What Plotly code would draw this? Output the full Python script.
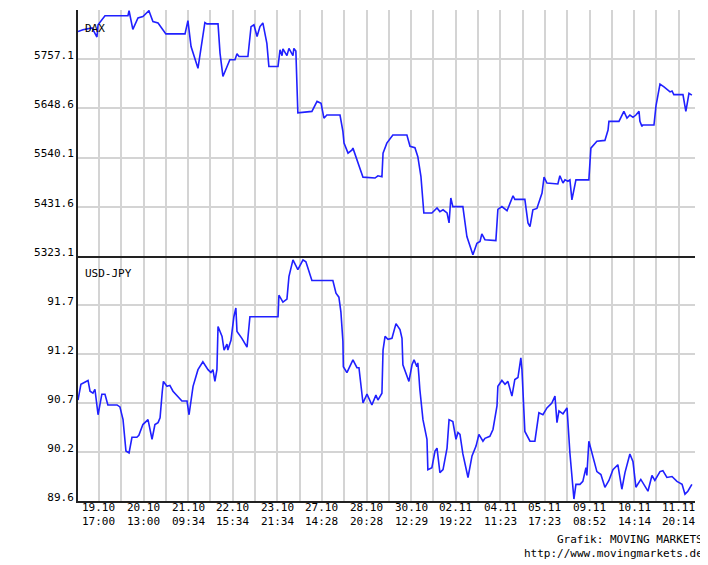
import plotly.graph_objects as go

# time position, in grid-line units (grid line 0 = 19.10 17:00)
dax_t = [-0.94, -0.72, -0.31, -0.09, -0.04, 0.27, 1.30, 1.35, 1.52, 1.75, 1.97, 2.24, 2.42, 2.65,
         3.00, 3.86, 3.99, 4.13, 4.44, 4.75, 4.84, 5.34, 5.43, 5.56, 5.87, 6.10, 6.19, 6.28, 6.68,
         6.82, 6.95, 7.09, 7.22, 7.35, 7.53, 7.62, 8.03, 8.12, 8.21, 8.25, 8.43, 8.52, 8.70, 8.74,
         8.83, 8.88, 8.92, 9.55, 9.78, 9.96, 10.09, 10.22, 10.81, 10.94, 10.99, 11.17, 11.35, 11.39,
         11.61, 11.84, 12.38, 12.51, 12.69, 12.74, 12.91, 13.18, 13.81, 13.95, 14.17, 14.30, 14.44,
         14.57, 14.93, 15.16, 15.29, 15.43, 15.61, 15.70, 15.78, 15.87, 16.32, 16.50, 16.77, 16.95,
         17.09, 17.17, 17.31, 17.80, 17.89, 18.07, 18.30, 18.57, 18.65, 19.10, 19.24, 19.33, 19.46,
         19.64, 19.87, 19.96, 20.09, 20.58, 20.67, 20.81, 20.90, 21.03, 21.12, 21.21, 21.39, 21.97,
         22.06, 22.33, 22.69, 22.83, 22.87, 23.32, 23.54, 23.68, 23.81, 23.95, 24.08, 24.22, 24.26,
         24.35, 24.39, 24.89, 24.98, 25.16, 25.34, 25.47, 25.61, 25.70, 25.78, 26.19, 26.32, 26.46,
         26.59]
dax_val = [5818, 5822, 5826, 5806, 5833, 5853, 5853, 5864, 5823, 5848, 5851, 5864, 5840, 5837,
           5813, 5813, 5842, 5785, 5737, 5838, 5835, 5835, 5770, 5719, 5756, 5756, 5769, 5763, 5763,
           5829, 5833, 5807, 5829, 5837, 5792, 5741, 5741, 5778, 5765, 5780, 5765, 5781, 5765, 5781,
           5775, 5671, 5639, 5642, 5664, 5660, 5627, 5634, 5634, 5598, 5572, 5550, 5557, 5561,
           5528, 5497, 5495, 5500, 5498, 5550, 5572, 5590, 5590, 5565, 5562, 5542, 5498,
           5418, 5418, 5429, 5421, 5425, 5418, 5396, 5451, 5432, 5432, 5366, 5326, 5351,
           5355, 5372, 5359, 5357, 5426, 5432, 5423, 5456, 5448, 5448, 5396, 5388, 5425,
           5428, 5462, 5497, 5484, 5482, 5500, 5484, 5491, 5488, 5491, 5447, 5491, 5491,
           5561, 5576, 5578, 5601, 5620, 5620, 5642, 5627, 5634, 5629, 5634, 5642, 5620,
           5609, 5612, 5612, 5654, 5702, 5696, 5690, 5685, 5687, 5679, 5679, 5642, 5682,
           5678]

jpy_t = [-0.94, -0.81, -0.49, -0.40, -0.27, -0.18, -0.04, 0.13, 0.27, 0.40, 0.81, 0.94, 1.08, 1.21,
         1.35, 1.48, 1.70, 1.79, 1.97, 2.20, 2.38, 2.51, 2.65, 2.74, 2.84, 2.89, 3.05, 3.18, 3.32,
         3.72, 3.95, 4.04, 4.17, 4.22, 4.44, 4.66, 4.89, 5.02, 5.11, 5.20, 5.29, 5.31, 5.34, 5.52,
         5.61, 5.74, 5.78, 5.92, 6.01, 6.05, 6.14, 6.19, 6.41, 6.64, 6.77, 8.03, 8.07, 8.25, 8.43,
         8.52, 8.70, 8.92, 9.15, 9.28, 9.55, 10.49, 10.63, 10.76, 10.85, 10.94, 10.96, 11.12, 11.39,
         11.57, 11.66, 11.79, 11.84, 12.02, 12.24, 12.42, 12.51, 12.69, 12.74, 12.83, 12.96, 13.14,
         13.32, 13.50, 13.59, 13.63, 13.81, 13.90, 14.04, 14.13, 14.26, 14.30, 14.35, 14.39, 14.53,
         14.71, 14.75, 14.93, 15.07, 15.16, 15.29, 15.43, 15.61, 15.70, 15.87, 16.01, 16.10, 16.19,
         16.32, 16.55, 16.73, 16.91, 17.04, 17.22, 17.31, 17.53, 17.67, 17.85, 17.89, 18.07, 18.21,
         18.34, 18.52, 18.65, 18.79, 18.92, 18.97, 19.01, 19.10, 19.33, 19.55, 19.73, 19.91, 20.09,
         20.31, 20.45, 20.54, 20.63, 20.81, 20.99, 21.12, 21.30, 21.39, 21.57, 21.70, 21.84, 21.88,
         21.97, 22.15, 22.33, 22.51, 22.69, 22.87, 23.05, 23.27, 23.45, 23.59, 23.81, 23.95, 24.08,
         24.30, 24.48, 24.62, 24.80, 24.93, 25.16, 25.29, 25.47, 25.70, 25.92, 26.15, 26.28, 26.41,
         26.59]
jpy_val = [90.73, 90.89, 90.93, 90.82, 90.80, 90.84, 90.58, 90.79, 90.79, 90.68, 90.68, 90.66, 90.53, 90.21,
           90.19, 90.35, 90.35, 90.37, 90.48, 90.53, 90.33, 90.48, 90.50, 90.55, 90.82, 90.92, 90.87, 90.88, 90.82,
           90.72, 90.72, 90.58, 90.79, 90.87, 91.04, 91.12, 91.04, 91.01, 91.04, 90.92, 91.04, 91.33, 91.48, 91.38,
           91.24, 91.30, 91.24, 91.34, 91.51, 91.58, 91.67, 91.43, 91.36, 91.27, 91.58, 91.58, 91.80, 91.73, 91.76,
           91.99, 92.16, 92.06, 92.16, 92.14, 91.95, 91.95, 91.82, 91.78, 91.63, 91.33, 91.07, 91.01, 91.14,
           91.06, 91.06, 90.84, 90.70, 90.79, 90.68, 90.78, 90.73, 90.80, 91.24, 91.38, 91.35, 91.36,
           91.51, 91.45, 91.36, 91.09, 90.99, 90.92, 91.09, 91.14, 91.07, 91.11, 90.97, 90.84, 90.53,
           90.33, 90.02, 90.04, 90.21, 90.24, 89.99, 90.02, 90.24, 90.53, 90.51, 90.33, 90.40, 90.38,
           90.18, 89.94, 90.16, 90.26, 90.38, 90.31, 90.34, 90.36, 90.43, 90.67, 90.87, 90.93, 90.89,
           90.92, 90.77, 90.94, 90.96, 91.16, 91.04, 90.79, 90.41, 90.31, 90.31, 90.60, 90.58, 90.65,
           90.70, 90.77, 90.50, 90.62, 90.59, 90.65, 90.19, 89.72, 89.87, 89.87, 89.90, 90.04, 89.96,
           90.31, 90.16, 90.00, 89.97, 89.84, 89.91, 90.02, 90.07, 89.82, 89.99, 90.18, 90.10, 89.84,
           89.92, 89.85, 89.80, 89.96, 89.91, 90.00, 90.01, 89.94, 89.95, 89.90, 89.87, 89.77, 89.80,
           89.87]

x_dates = ["19.10", "20.10", "21.10", "22.10", "23.10", "27.10", "28.10",
           "30.10", "02.11", "04.11", "05.11", "09.11", "10.11", "11.11"]
x_times = ["17:00", "13:00", "09:34", "15:34", "21:34", "14:28", "20:28",
           "12:29", "19:22", "11:23", "17:23", "08:52", "14:14", "20:14"]
dax_ticks = [5323.1, 5431.6, 5540.1, 5648.6, 5757.1]
jpy_ticks = [89.7, 90.2, 90.7, 91.2, 91.7]
jpy_ticktext = ["89.6", "90.2", "90.7", "91.2", "91.7"]

FONT = "DejaVu Sans Mono"
BLUE = "#2020ff"
GRID = "#d4d4d4"

# grid every unit, a label on every second one
grid_vals = list(range(27))

fig = go.Figure()
fig.add_trace(go.Scatter(x=dax_t, y=dax_val, mode="lines", xaxis="x2", yaxis="y2",
                         line=dict(color=BLUE, width=1.6), showlegend=False))
fig.add_trace(go.Scatter(x=jpy_t, y=jpy_val, mode="lines", xaxis="x", yaxis="y",
                         line=dict(color=BLUE, width=1.6), showlegend=False))

tick_font = dict(family=FONT, size=11, color="black")
xaxis_common = dict(range=[-0.94, 26.73], tickvals=grid_vals, showgrid=True, gridcolor=GRID,
                    gridwidth=2, zeroline=False, showline=True, linecolor="#222222", linewidth=2,
                    ticks="", showticklabels=False)
yaxis_common = dict(showgrid=True, gridcolor=GRID, gridwidth=2, zeroline=False, showline=True,
                    linecolor="#222222", linewidth=2, ticks="", ticklabelshift=-4,
                    tickfont=tick_font)

# page body has an 8px margin, so the figure is a bit smaller and shifted
fig.update_layout(
    width=700, height=557,
    margin=dict(l=70, r=13, t=2, b=64),
    paper_bgcolor="white", plot_bgcolor="white",
    xaxis=dict(**xaxis_common, anchor="y"),
    xaxis2=dict(**xaxis_common, anchor="y2", matches="x"),
    yaxis=dict(**yaxis_common, domain=[0, 0.499], range=[89.7, 92.2],
               tickvals=jpy_ticks, ticktext=jpy_ticktext),
    yaxis2=dict(**yaxis_common, domain=[0.499, 1], range=[5323.1, 5865.6],
                tickvals=dax_ticks, ticktext=[f"{v:.1f}" for v in dax_ticks]),
)

# two-line date / time labels under every second grid line
for k, (d, t) in enumerate(zip(x_dates, x_times)):
    fig.add_annotation(text=f"{d}<br>{t}", x=grid_vals[2 * k], xref="x", y=0, yref="paper",
                       yanchor="top", yshift=1, showarrow=False, font=tick_font,
                       borderpad=0)

fig.add_annotation(text="DAX", xref="paper", yref="paper", x=0.008, y=0.963,
                   xanchor="left", yanchor="middle", showarrow=False, font=tick_font)
fig.add_annotation(text="USD-JPY", xref="paper", yref="paper", x=0.008, y=0.463,
                   xanchor="left", yanchor="middle", showarrow=False, font=tick_font)
fig.add_annotation(text="Grafik: MOVING MARKETS", xref="paper", yref="paper", x=1.016, y=-0.079,
                   xanchor="right", yanchor="middle", showarrow=False, font=tick_font)
fig.add_annotation(text="http://www.movingmarkets.de", xref="paper", yref="paper", x=1.016, y=-0.106,
                   xanchor="right", yanchor="middle", showarrow=False, font=tick_font)

fig.write_html("out.html")
